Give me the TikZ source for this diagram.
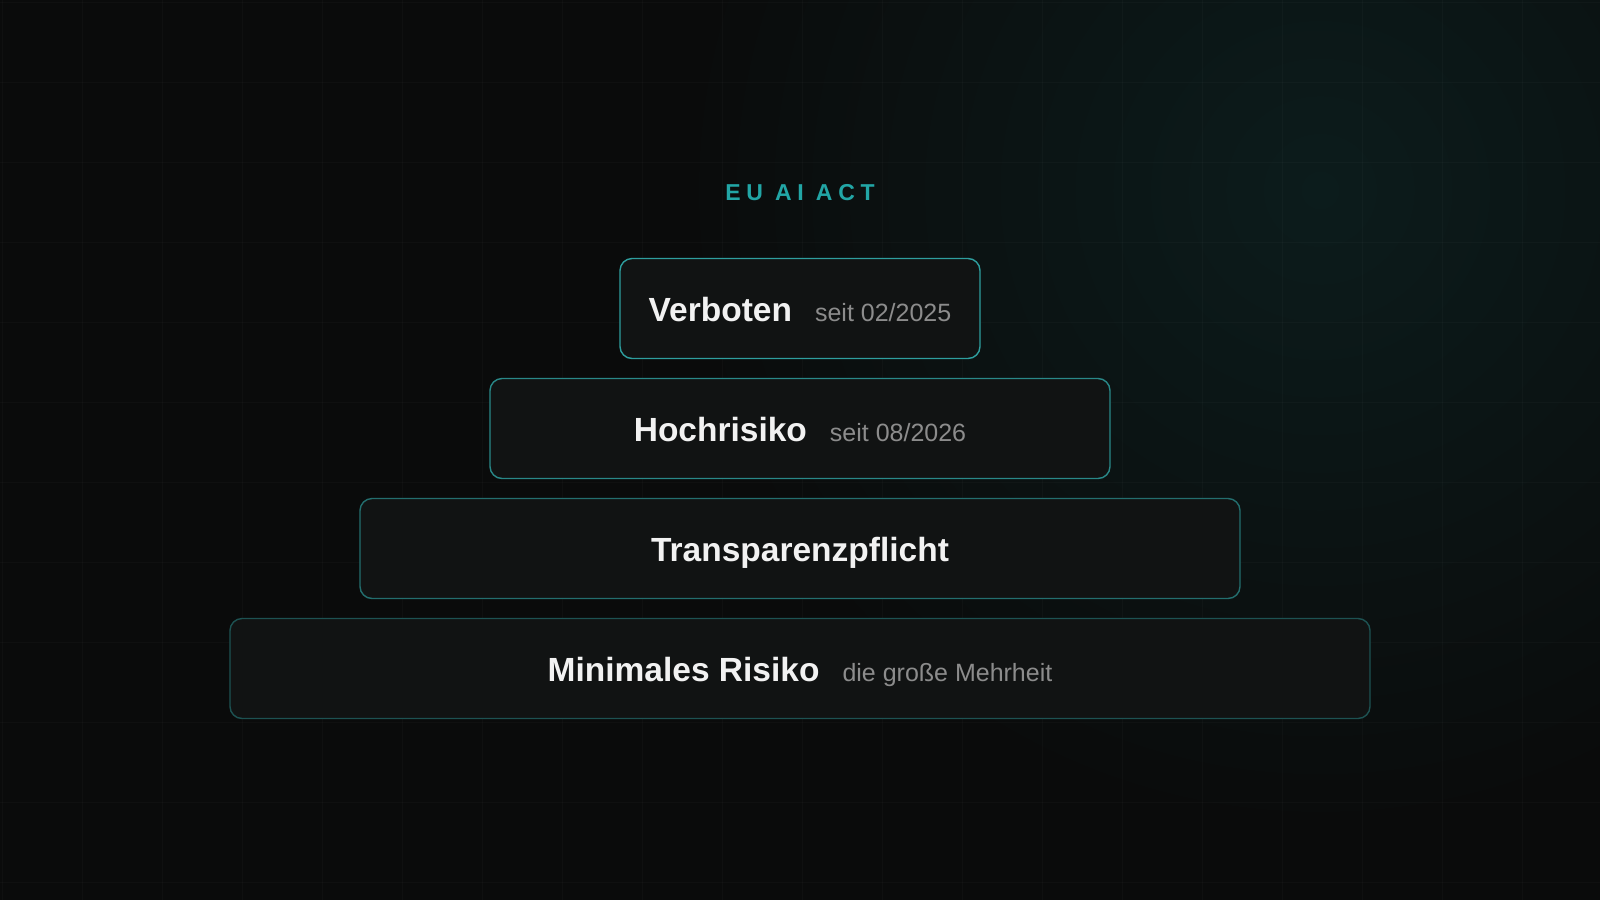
\documentclass[tikz,border=0pt]{standalone}
\usepackage{fontspec}
\setmainfont{Liberation Sans}
\newfontfamily\spacedfont[LetterSpace=25]{Liberation Sans}
\usepackage{xcolor}
\usepackage{tikz}
\usetikzlibrary{positioning}
\definecolor{bgdark}{HTML}{0A0B0B}
\definecolor{bgglow}{HTML}{0C1C1C}
\definecolor{tierfill}{HTML}{111313}
\definecolor{titleteal}{HTML}{22A6A6}
\definecolor{edgeA}{HTML}{2E9E9E}
\definecolor{edgeB}{HTML}{298888}
\definecolor{edgeC}{HTML}{236E6E}
\definecolor{edgeD}{HTML}{1D5252}
\definecolor{maintext}{HTML}{F2F2F2}
\definecolor{subtext}{HTML}{8C8C8C}
\tikzset{
gridline/.style={draw=white, opacity=0.025, line width=1pt},
tier/.style={rectangle, rounded corners=12pt, fill=tierfill, line width=1.4pt,
  inner sep=0pt, minimum height=100pt, text height=25pt, text depth=0pt, align=center},
title/.style={inner sep=0pt, text=titleteal}
}
\newcommand{\tiername}[1]{{\fontsize{33.5}{38}\selectfont\bfseries\color{maintext}#1}}
\newcommand{\tiernote}[1]{\hspace{23pt}{\fontsize{25}{30}\selectfont\color{subtext}#1}}

\begin{document}
\begin{tikzpicture}[x=1pt,y=-1pt]
\useasboundingbox (0,0) rectangle (1600,900);
\fill[bgdark] (0,0) rectangle (1600,900);
% glow top right
\begin{scope}
  \clip (0,0) rectangle (1600,900);
  \shade[inner color=bgglow, outer color=bgdark] (1320,190) circle (640pt);
\end{scope}
% grid
\foreach \gx in {2,82,...,1600} \draw[gridline] (\gx,0) -- (\gx,900);
\foreach \gy in {2,82,...,900} \draw[gridline] (0,\gy) -- (1600,\gy);

\node[title] (acttitle) at (800,193) {\spacedfont\fontsize{23}{26}\selectfont\bfseries EU AI ACT};

% pyramid tiers
\node[tier, draw=edgeA, minimum width=360pt] (verboten) at (800,308.5) {\tiername{Verboten}\tiernote{seit 02/2025}};
\node[tier, draw=edgeB, minimum width=620pt] (hochrisiko) at (800,428.5) {\tiername{Hochrisiko}\tiernote{seit 08/2026}};
\node[tier, draw=edgeC, minimum width=880pt] (transparenz) at (800,548.5) {\tiername{Transparenzpflicht}};
\node[tier, draw=edgeD, minimum width=1140pt] (minimal) at (800,668.5) {\tiername{Minimales Risiko}\tiernote{die große Mehrheit}};
\end{tikzpicture}
\end{document}
